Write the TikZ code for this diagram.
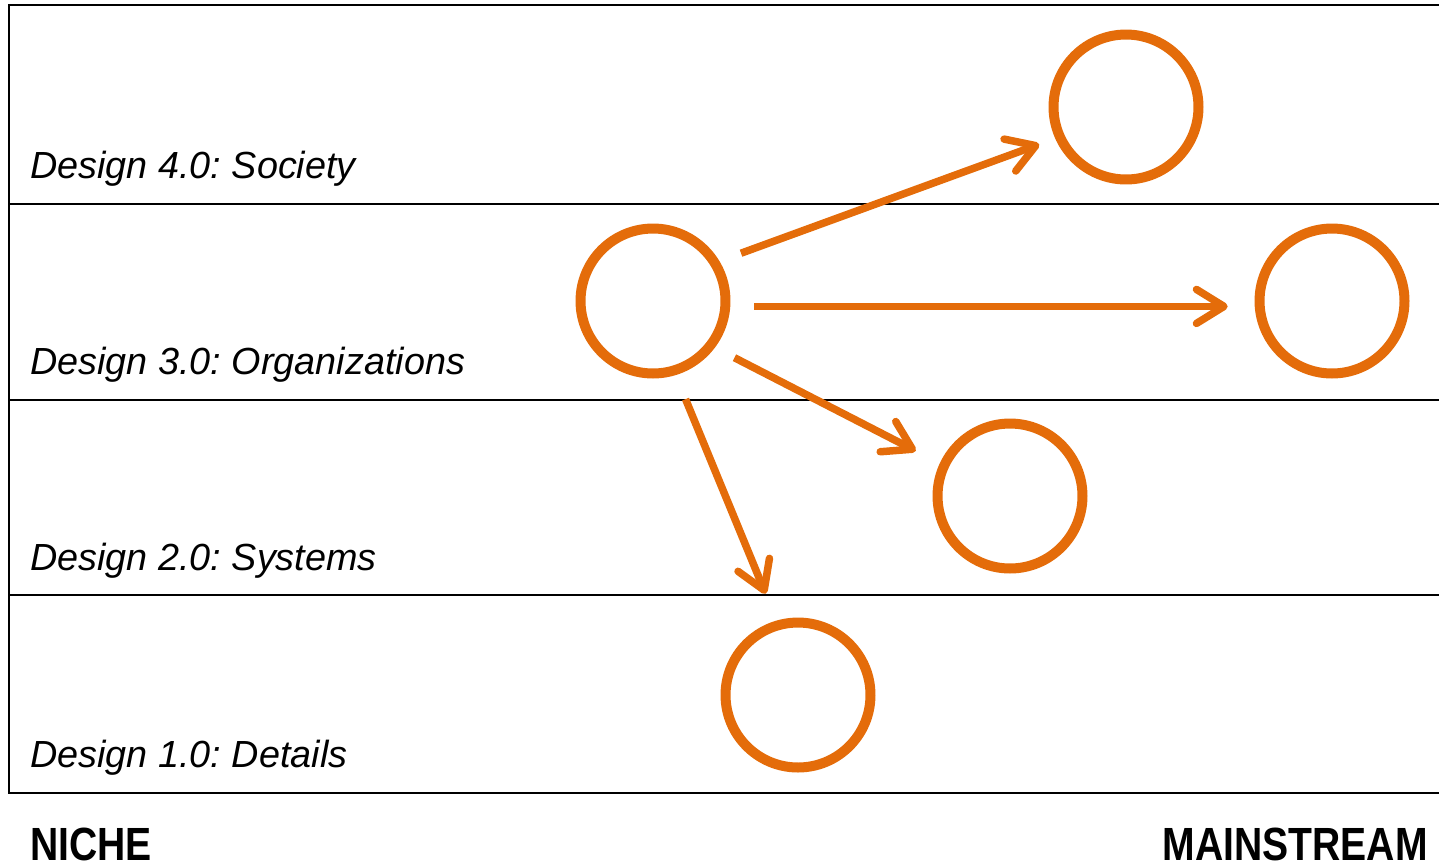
\documentclass[tikz,border=0pt]{standalone}
\usepackage{fontspec}
\setmainfont{Liberation Sans}
\usetikzlibrary{arrows.meta,positioning}
\definecolor{naranja}{HTML}{E46C0A}
\frenchspacing

\begin{document}
\begin{tikzpicture}[x=0.02cm,y=-0.02cm,
  ring/.style={draw=naranja,line width=0.2cm,circle,minimum size=2.9cm,inner sep=0pt},
  flow/.style={naranja,line width=0.15cm,-{Straight Barb[length=0.55cm,width=0.68cm,round]}},
  level/.style={anchor=base west,inner sep=0pt,font=\fontsize{21.5}{24}\selectfont\itshape},
  pole/.style={inner sep=0pt,font=\fontsize{26.5}{30}\selectfont\bfseries}]
  \useasboundingbox (0,0) rectangle (1439,867);

  % Franjas
  \draw[line width=0.04cm] (1439,5) -- (9,5) -- (9,793) -- (1439,793);
  \foreach \y in {204,400,595}
    \draw[line width=0.03cm] (9,\y) -- (1439,\y);

  % Niveles
  \node[level] (l4) at (30,178) {Design 4.0: Society};
  \node[level] (l3) at (30,374) {Design 3.0: Organizations};
  \node[level] (l2) at (30,570) {Design 2.0: Systems};
  \node[level] (l1) at (30,767) {Design 1.0: Details};

  % Circulos
  \node[ring] (c4) at (1126,107) {};
  \node[ring] (c3) at (653,301) {};
  \node[ring] (c3r) at (1332,301) {};
  \node[ring] (c2) at (1010,496) {};
  \node[ring] (c1) at (798,695) {};

  % Flechas
  \draw[flow,shorten <=0.46cm,shorten >=0.34cm] (c3.31) -- (c4.204);
  \draw[flow,shorten <=0.48cm,shorten >=0.54cm] (c3.-4) -- (c3r.184);
  \draw[flow,shorten <=0.44cm,shorten >=0.54cm] (c3.-37) -- (c2.155);
  \draw[flow,shorten <=0.52cm,shorten >=0.58cm] (c3.-73) -- (c1.106);

  % Extremos
  \node[pole,anchor=base west] (niche) at (30,860) {\scalebox{0.84}[1]{NICHE}};
  \node[pole,anchor=base east] (main) at (1428,860) {\scalebox{0.84}[1]{MAINSTREAM}};
\end{tikzpicture}
\end{document}
